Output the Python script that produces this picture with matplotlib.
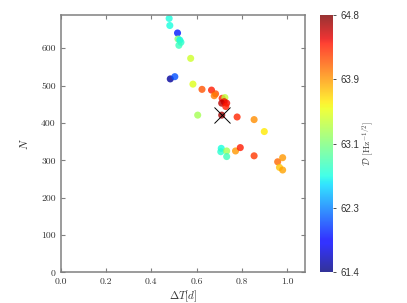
import matplotlib
matplotlib.use("Agg")
import matplotlib.pyplot as plt
import numpy as np

# data
delta_t = [0.479, 0.482, 0.516, 0.518, 0.526, 0.531, 0.522, 0.574, 0.484, 0.504,
           0.584, 0.624, 0.666, 0.684, 0.678, 0.713, 0.725, 0.722, 0.711, 0.733,
           0.729, 0.711, 0.605, 0.779, 0.854, 0.899, 0.709, 0.707, 0.733, 0.733,
           0.772, 0.793, 0.854, 0.958, 0.980, 0.966, 0.980]
n_vals = [680, 661, 641, 625, 622, 616, 608, 573, 518, 524,
          504, 490, 488, 478, 473, 466, 468, 457, 453, 453,
          444, 421, 421, 416, 409, 377, 332, 323, 325, 310,
          325, 334, 312, 296, 307, 281, 274]
d_vals = [62.70, 62.70, 61.92, 63.10, 62.66, 62.76, 62.83, 63.44, 61.50, 62.09,
          63.50, 64.18, 64.38, 64.20, 64.04, 64.38, 63.37, 64.44, 64.60, 64.44,
          64.38, 64.68, 63.27, 64.34, 63.97, 63.64, 62.70, 62.76, 63.27, 62.86,
          63.94, 64.38, 64.28, 64.10, 63.94, 63.77, 63.90]
best_t = [0.711]
best_n = [421]
vmin, vmax = 61.42, 64.78
x_ticks = [0.0, 0.2, 0.4, 0.6, 0.8, 1.0]
y_ticks = [0, 100, 200, 300, 400, 500, 600]

plt.rcParams['font.family'] = ['cmr10', 'DejaVu Serif']
plt.rcParams['mathtext.fontset'] = 'cm'
plt.rcParams['axes.formatter.use_mathtext'] = True

fig = plt.figure(figsize=(4.07, 3.03), dpi=100)
ax = fig.add_axes([0.149, 0.1013, 0.600, 0.849])
cax = fig.add_axes([0.786, 0.1013, 0.032, 0.849])

sc = ax.scatter(delta_t, n_vals, c=d_vals, cmap='jet', vmin=vmin, vmax=vmax,
                s=26, alpha=0.8, edgecolors='none', zorder=2)
ax.plot(best_t, best_n, marker='x', color='black', markersize=11,
        markeredgewidth=0.7, linestyle='none', zorder=3)

ax.set_xlim(0, 1.078)
ax.set_ylim(0, 689)
ax.set_xticks(x_ticks)
ax.set_yticks(y_ticks)
ax.set_xticklabels([f"{v:.1f}" for v in x_ticks])
ax.set_yticklabels([f"{v}" for v in y_ticks])
ax.tick_params(direction='in', top=True, right=True, labelsize=7,
               colors='#808080', labelcolor='#333333', length=3, width=0.8)
for sp in ax.spines.values():
    sp.set_color('#808080')
    sp.set_linewidth(1.1)
ax.set_xlabel(r'$\Delta T [d]$', fontsize=8, labelpad=2, color='#333333')
ax.set_ylabel(r'$N$', fontsize=8, labelpad=8, color='#333333')

cb = fig.colorbar(sc, cax=cax)
ticks = np.linspace(vmin, vmax, 5)
cb.set_ticks(ticks)
cb.set_ticklabels([f"{t:.1f}" for t in ticks])
cb.outline.set_visible(False)
cb.ax.tick_params(labelsize=7, length=2, width=0.6, colors='#333333')
for lab in cb.ax.get_yticklabels():
    lab.set_family('Liberation Sans')
cb.set_label(r'$\mathcal{D}$ [Hz$^{-1/2}$]', fontsize=7, labelpad=1, color='#444444')

fig.savefig('out.png', dpi=100)
